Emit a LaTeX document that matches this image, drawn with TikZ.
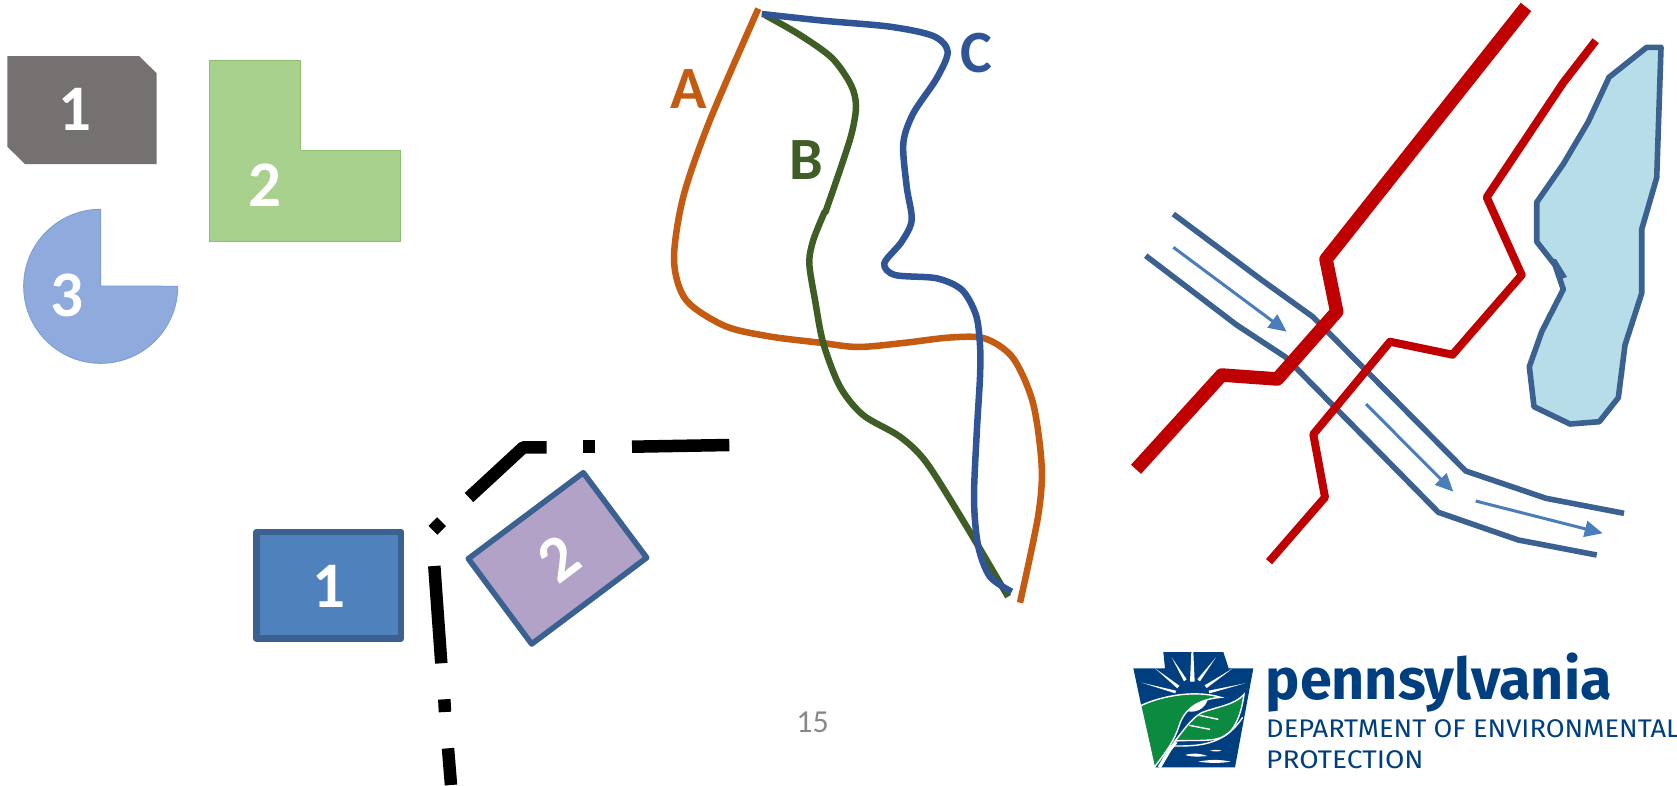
\documentclass[tikz,border=0pt]{standalone}
\usepackage{fontspec}
\usetikzlibrary{arrows.meta}
\setmainfont{Carlito}
\newfontfamily\logofont{Fira Sans}
\definecolor{gshape}{HTML}{767171}
\definecolor{lgreen}{HTML}{A9D18E}
\definecolor{lgreenb}{HTML}{8FC070}
\definecolor{pblue}{HTML}{8FAADC}
\definecolor{pblueb}{HTML}{7DA0D8}
\definecolor{rblue}{HTML}{4F81BD}
\definecolor{sblue}{HTML}{3B6190}
\definecolor{purp}{HTML}{B2A2C7}
\definecolor{corange}{HTML}{C55A11}
\definecolor{cgreen}{HTML}{3F5E25}
\definecolor{cblue}{HTML}{2F5597}
\definecolor{dred}{HTML}{C00000}
\definecolor{lake}{HTML}{B7DDE8}
\definecolor{arrowb}{HTML}{4A7EBB}
\definecolor{logob}{HTML}{003F7F}
\definecolor{logog}{HTML}{0B8A40}
\definecolor{pgray}{HTML}{898989}
\tikzset{
  x=1pt,y=-1pt,
  digit/.style={font=\fontsize{65}{65}\selectfont\bfseries,text=white,inner sep=0pt},
  letter/.style={font=\fontsize{60}{60}\selectfont\bfseries,inner sep=0pt},
  blk/.style={line width=12.5pt,black,line cap=butt,line join=round},
  curveline/.style={line width=6.5pt,line cap=butt},
  sblueline/.style={line width=5.6pt,sblue,line cap=butt,line join=round},
  flow/.style={line width=3pt,arrowb,-{Triangle[length=18pt,width=16pt]}},
}
\begin{document}
\begin{tikzpicture}
\useasboundingbox (0,0) rectangle (1677,785);
% top-left shapes
\fill[gshape] (7.3,56) -- (139,56) -- (156.7,73.3) -- (156.7,164) -- (25,164) -- (7.3,146.7) -- cycle;
\node[digit] (n1) at (75,109) {1};
\draw[lgreenb,fill=lgreen,line width=1pt] (209,60.7) -- (300.7,60.7) -- (300.7,150.7) -- (400,150.7) -- (400,241.7) -- (209,241.7) -- cycle;
\node[digit] (n2) at (265,185) {2};
\draw[pblueb,fill=pblue,line width=1pt] (100.7,286) -- (100.7,209.3) arc[start angle=-90,end angle=-360,radius=77] -- cycle;
\node[digit] (n3) at (67.3,295) {3};
% bottom-left shapes
\draw[sblue,fill=rblue,line width=6.5pt,line join=round] (256.7,532) rectangle (401,638.7);
\node[digit] (m1) at (329,586.7) {1};
\draw[sblue,fill=purp,line width=5.6pt,line join=round] (583.3,472.7) -- (646.7,557.7) -- (531.7,644) -- (468.3,558.7) -- cycle;
\node[digit,rotate=37] (m2) at (559.3,559) {2};
% dash-dot boundary
\draw[blk] (469,497.5) -- (523.3,447.3) -- (546.7,447.3);
\draw[blk] (583.3,446.7) -- (595.3,446.7);
\draw[blk] (632,446.7) -- (729.3,445);
\draw[blk] (433,530.3) -- (441.6,521.7);
\draw[blk] (434.3,566) -- (441.3,663.3);
\draw[blk] (444.3,699.3) -- (445,712);
\draw[blk] (448,748.3) -- (451,785);
% curves
\draw[corange,curveline] plot[smooth,tension=0.5] coordinates {(758.3,8.7) (710,120) (683.3,196.7) (674,260) (686,300) (725,326) (770,336.5) (820,342.7) (858,347) (903,343) (950,337.5) (985,338.5) (1013,358) (1033,403) (1041.7,466.7) (1038,516.7) (1020,602.7)};
\draw[cgreen,curveline] plot[smooth,tension=0.5] coordinates {(765,15) (800,35) (832,58) (851,85) (856,106) (851.7,133.3) (840,170) (825,213.3)};
\draw[cgreen,curveline] plot[smooth,tension=0.5] coordinates {(825,211) (813.3,240) (809.3,263.3) (815,300) (823.3,343.3) (840,386.7) (863,415) (900,436.7) (926.7,463) (966.7,526.7) (1008,596.7)};
\draw[cblue,curveline] plot[smooth,tension=0.5] coordinates {(761.7,14) (823.3,20.7) (890,26.7) (933.3,36) (947.7,51.7) (936.7,78.3) (913.3,113.3) (903.3,143.3) (906.7,186.7) (911.7,220) (901.7,241.7) (884.3,263.3) (895,275) (936.7,278.3) (962,290) (976,315) (980,345) (980,376.7) (976.7,433.3) (974,500) (978.3,546.7) (990,576.7) (1011.7,591.7)};
\node[letter,text=corange] (la) at (689,89) {A};
\node[letter,text=cgreen] (lb) at (806,160) {B};
\node[letter,text=cblue] (lc) at (976,53) {C};
% lake
\draw[sblue,fill=lake,line width=5.6pt,line join=round] (1661,47.3) -- (1646.7,47.3) -- (1609,77.3) -- (1588.3,121.7) -- (1563.3,164) -- (1536.7,202.3) -- (1536.7,241.7) -- (1555,265) -- (1563.3,289.3) -- (1541.7,331.7) -- (1529.3,366.7) -- (1534,406.7) -- (1570,424) -- (1599.3,421.7) -- (1618.3,397.7) -- (1625,345) -- (1641.7,293.3) -- (1641.7,229.3) -- (1656.7,177.7) -- cycle;
\fill[sblue] (1554,259) -- (1556,259) -- (1567,277) -- (1558,280) -- cycle;
% stream
\draw[sblueline] (1173.3,214) -- (1261.7,280) -- (1312.7,316.7) -- (1465.7,471) -- (1546,498.3) -- (1624,513.3);
\draw[sblueline] (1145.7,255.7) -- (1236.7,325) -- (1285,356.7) -- (1438.3,512.3) -- (1518.3,540) -- (1596.7,555);
\draw[flow] (1173.3,247.3) -- (1286.7,331.7);
\draw[flow] (1366,404) -- (1453.3,491.7);
\draw[flow] (1475.7,501) -- (1602.7,533.3);
% roads
\draw[dred,line width=13.5pt,line join=round] (1526,7) -- (1326,259.3) -- (1336.7,311.7) -- (1277.3,379) -- (1221.7,375) -- (1136,469.3);
\draw[dred,line width=8pt,line join=round] (1595.7,40.7) -- (1563,83) -- (1486.7,197.3) -- (1521.7,275) -- (1452.5,354.7) -- (1390,341.7) -- (1313.3,434.3) -- (1325,497.3) -- (1269,561.7);
% page number
\node[font=\fontsize{32}{32}\selectfont,text=pgray,inner sep=0pt] (pg) at (812.5,722) {15};
% logo
\begin{scope}[shift={(1120,640)},x=.3333pt,y=-.3333pt]
\fill[logob] (130,36) -- (310,36) -- (326,85) -- (400,85) -- (345,382) -- (103,382) -- (40,85) -- (135,85) -- cycle;
\fill[white] (165,165) arc[start angle=180,end angle=0,radius=50] -- cycle;
\fill[white] (214,36) -- (220,36) -- (224,125) -- (210,125) -- cycle;
\fill[white] (155,52) -- (200,118) -- (192,124) -- cycle;
\fill[white] (288,52) -- (240,124) -- (232,118) -- cycle;
\fill[white] (105,85) -- (178,137) -- (172,145) -- cycle;
\fill[white] (337,86) -- (260,144) -- (254,136) -- cycle;
\fill[white] (65,128) -- (168,152) -- (166,160) -- cycle;
\fill[white] (375,130) -- (268,160) -- (266,152) -- cycle;
\draw[white,line width=1.4pt,fill=logog] (62,197) .. controls (130,165) and (230,150) .. (302,172) .. controls (235,178) and (195,205) .. (178,255) .. controls (165,300) and (135,340) .. (103,382) -- cycle;
\draw[white,line width=1.4pt,fill=logog] (372,163) .. controls (345,195) and (290,200) .. (245,218) .. controls (215,235) and (195,265) .. (165,303) .. controls (230,298) and (290,310) .. (325,280) .. controls (350,258) and (365,215) .. (372,163) -- cycle;
\draw[white,line width=3.5pt] (118,382) -- (150,328) -- (168,306);
\draw[white,line width=1.4pt] (160,318) .. controls (230,318) and (310,320) .. (368,232);
\draw[white,line width=1.4pt] (238,226) -- (295,238);
\draw[white,line width=1.4pt] (208,256) -- (270,268);
\fill[white] (195,345) .. controls (220,338) and (240,340) .. (262,348) .. controls (240,350) and (220,352) .. (195,345) -- cycle;
\fill[white] (235,365) .. controls (270,358) and (300,358) .. (332,365) .. controls (300,370) and (270,370) .. (235,365) -- cycle;
\fill[white] (270,332) .. controls (282,329) and (294,329) .. (305,332) .. controls (294,335) and (282,335) .. (270,332) -- cycle;
\end{scope}
\node[anchor=base west,inner sep=0pt,text=logob,font=\logofont\fontsize{57.5}{57.5}\selectfont\bfseries] (lg1) at (1265.5,699.3) {pennsylvania};
\node[anchor=base west,inner sep=0pt,xscale=1.07,text=logob,font=\logofont\fontsize{25.5}{25.5}\selectfont] (lg2) at (1266,737.3) {DEPARTMENT OF ENVIRONMENTAL};
\node[anchor=base west,inner sep=0pt,xscale=1.1,text=logob,font=\logofont\fontsize{25.5}{25.5}\selectfont] (lg3) at (1266,768.3) {PROTECTION};
\end{tikzpicture}
\end{document}
